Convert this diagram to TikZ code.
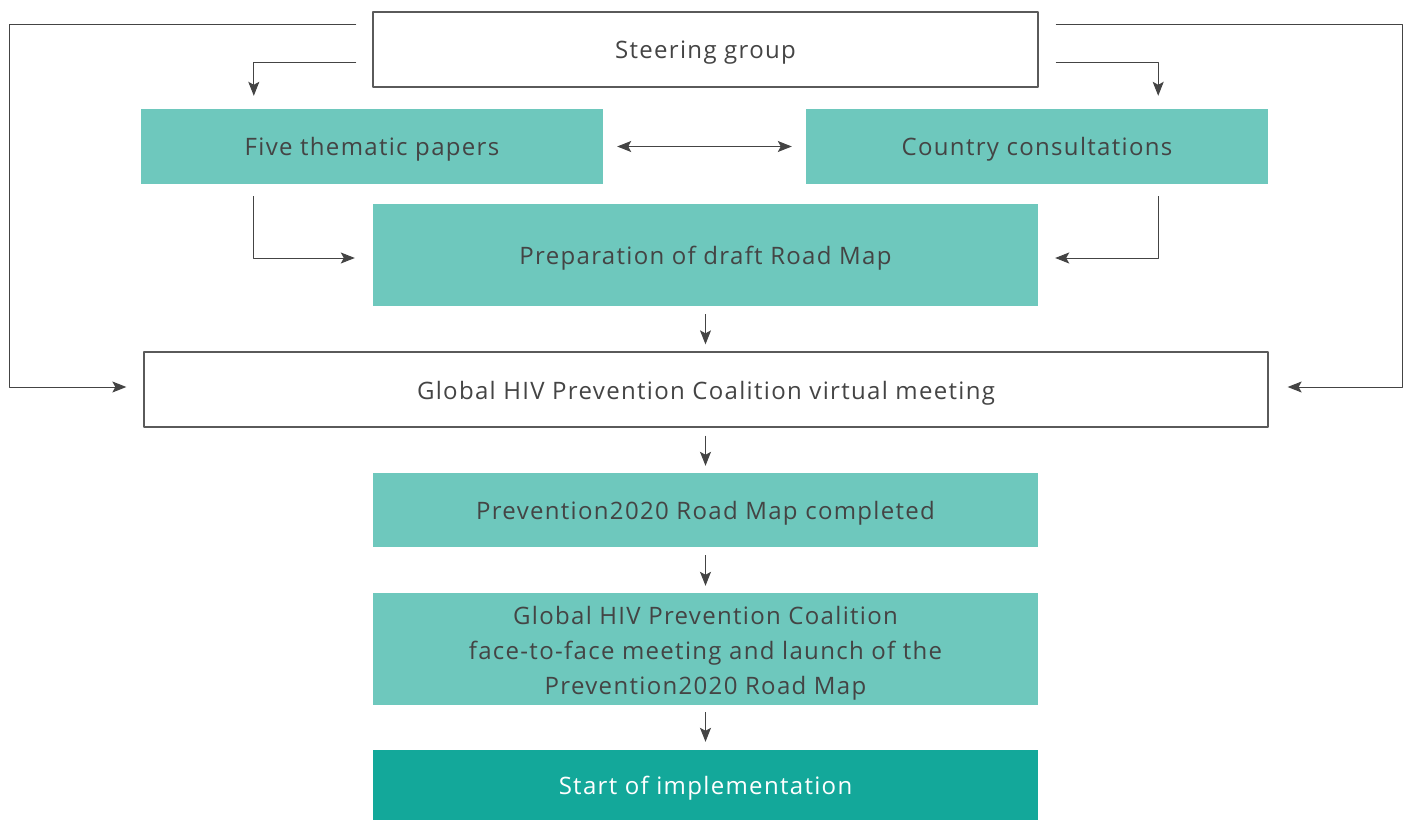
\documentclass[tikz,border=0pt]{standalone}
\usepackage{fontspec}
\setmainfont{Open Sans}[Ligatures=NoCommon, LetterSpace=5.5]
\usetikzlibrary{arrows.meta,calc}
\definecolor{lightteal}{HTML}{6EC8BD}
\definecolor{darkteal}{HTML}{13A89A}
\definecolor{txtgray}{HTML}{444444}
\definecolor{linegray}{HTML}{5A5A5A}
\begin{document}
\begin{tikzpicture}[x=1pt, y=-1pt, font=\fontsize{24}{35}\selectfont, line join=round,
	>={Stealth[length=14pt,width=11pt,inset=3pt]},
	box/.style={inner sep=0pt, align=center, text height=24pt, text depth=5pt},
	wbox/.style={box, draw=linegray, line width=1.3pt, fill=white, text=txtgray},
	tbox/.style={box, fill=lightteal, text=txtgray},
	dbox/.style={box, fill=darkteal, text=white},
	arr/.style={->, draw=txtgray, line width=1pt}]
	\useasboundingbox (0,0) rectangle (1408,821);
	% boxes
	\node[wbox, minimum width=665pt, minimum height=75pt] (steer) at (705.5,49.5) {Steering group};
	\node[tbox, minimum width=462pt, minimum height=75pt] (papers) at (372,146.5) {Five thematic papers};
	\node[tbox, minimum width=462pt, minimum height=75pt] (country) at (1037,146.5) {Country consultations};
	\node[tbox, minimum width=665pt, minimum height=102pt] (draft) at (705.5,255) {Preparation of draft Road Map};
	\node[wbox, minimum width=1124pt, minimum height=75pt] (virtual) at (706,389.5) {Global HIV Prevention Coalition virtual meeting};
	\node[tbox, minimum width=665pt, minimum height=74pt] (done) at (705.5,510) {Prevention2020 Road Map completed};
	\node[tbox, text height=97pt, text depth=6pt, minimum width=665pt, minimum height=112pt] (launch) at (705.5,649) {Global HIV Prevention Coalition\\face-to-face meeting and launch of the\\Prevention2020 Road Map};
	\node[dbox, minimum width=665pt, minimum height=70pt] (start) at (705.5,785) {Start of implementation};
	% end points
	\coordinate (pIn) at ($(papers.north west)+(113,-13)$);
	\coordinate (cIn) at ($(country.north east)+(-110,-13)$);
	\coordinate (vL) at ($(virtual.west)+(-17,-2.5)$);
	\coordinate (vR) at ($(virtual.east)+(19,-2.5)$);
	\coordinate (dL) at ($(draft.west)+(-18,3)$);
	\coordinate (dR) at ($(draft.east)+(17,3)$);
	% connectors
	\draw[arr] ($(steer.north west)+(-16,13)$) -- ++(-347,0) |- (vL);
	\draw[arr] ($(steer.north east)+(17,13)$) -- ++(347,0) |- (vR);
	\draw[arr] ($(steer.west)+(-16,13.5)$) -| (pIn);
	\draw[arr] ($(steer.east)+(17,13.5)$) -| (cIn);
	\draw[arr, <->, shorten <=14pt, shorten >=14pt] (papers.east) -- (country.west);
	\draw[arr] ($(papers.south west)+(113,12)$) |- (dL);
	\draw[arr] ($(country.south east)+(-110,12)$) |- (dR);
	\draw[arr, shorten <=8pt, shorten >=7pt] (draft.south) -- (draft.south |- virtual.north);
	\draw[arr, shorten <=8pt, shorten >=7pt] (virtual.south -| done) -- (done.north);
	\draw[arr, shorten <=8pt, shorten >=7pt] (done.south) -- (launch.north);
	\draw[arr, shorten <=7pt, shorten >=8pt] (launch.south) -- (start.north);
\end{tikzpicture}
\end{document}
